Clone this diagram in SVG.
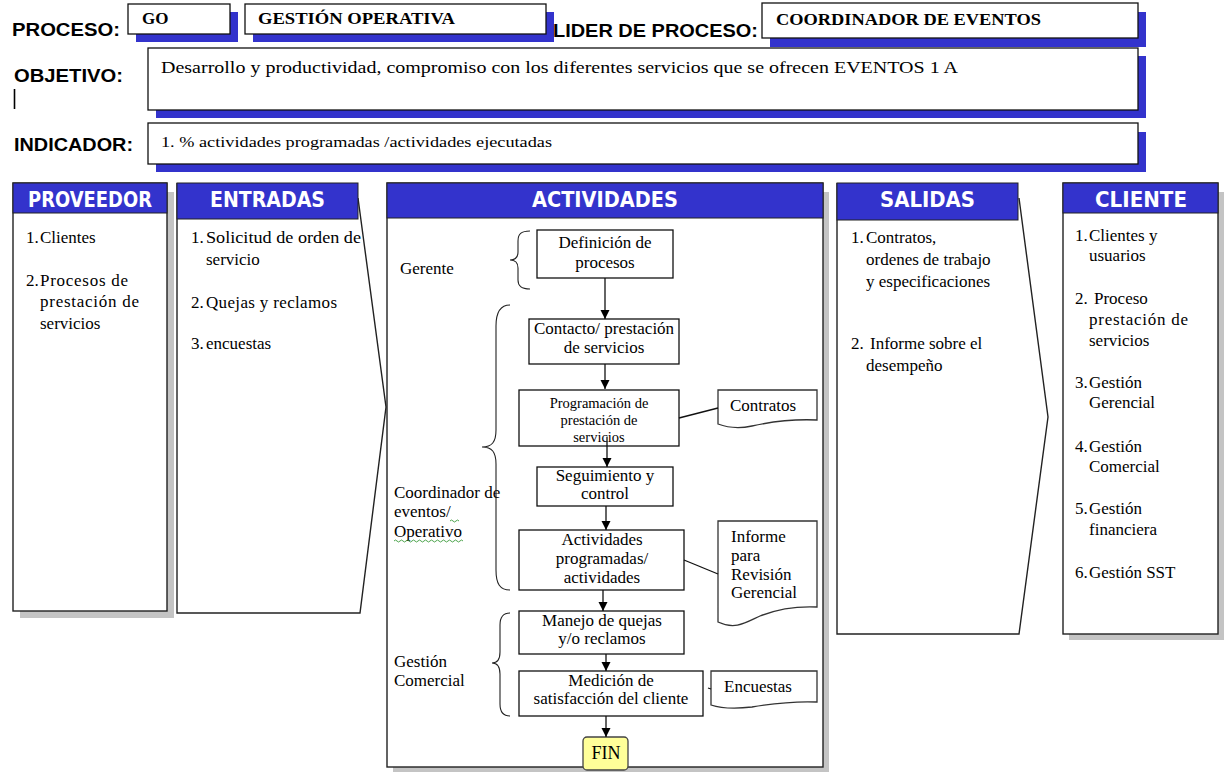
<svg xmlns="http://www.w3.org/2000/svg" width="1227" height="772" viewBox="0 0 1227 772">
<style>
  .lbl{font-family:"Liberation Sans",Arial,sans-serif;font-weight:bold;font-size:18px;fill:#000}
  .val{font-family:"Liberation Serif","Times New Roman",serif;font-weight:bold;font-size:17px;fill:#000}
  .t{font-family:"Liberation Serif","Times New Roman",serif;font-size:17px;fill:#000}
  .ts{font-family:"Liberation Serif","Times New Roman",serif;font-size:14.5px;fill:#000;text-anchor:middle}
  .nt{font-family:"Liberation Serif","Times New Roman",serif;font-size:17px;fill:#000;text-anchor:middle}
  .fbox{fill:#fff;stroke:#111;stroke-width:1.3}
  .bsh{fill:#3333cc}
  .gsh{fill:#c4c4c4}
  .col{fill:#fff;stroke:#222;stroke-width:1.4}
  .band{fill:#3333cc;stroke:#222;stroke-width:1}
  .hd{font-family:"DejaVu Sans",sans-serif;font-weight:bold;font-size:21px;fill:#fff}
  .node{fill:#fff;stroke:#111;stroke-width:1.3}
  .doc{fill:#fff;stroke:#333;stroke-width:1.3}
  .conn{stroke:#111;stroke-width:1.3;fill:none}
  .brace{stroke:#222;stroke-width:1.1;fill:none}
  .sq{stroke:#3a9a3a;stroke-width:0.9;fill:none}
</style>
<defs>
  <marker id="ah" viewBox="0 0 10 10" refX="10" refY="5" markerWidth="9" markerHeight="10" markerUnits="userSpaceOnUse" orient="auto">
    <path d="M0,0 L10,5 L0,10 Z" fill="#000"/>
  </marker>
</defs>
<rect width="1227" height="772" fill="#fff"/>

<!-- header: process identification -->
<g id="hdr-proceso">
  <text class="lbl" x="12" y="36" textLength="108" lengthAdjust="spacingAndGlyphs">PROCESO:</text>
  <rect class="bsh" x="136" y="12" width="102" height="30"/>
  <rect class="fbox" x="128" y="4" width="102" height="30"/>
  <text class="val" x="142" y="24">GO</text>
  <rect class="bsh" x="253" y="12" width="301" height="30"/>
  <rect class="fbox" x="245" y="4" width="301" height="30"/>
  <text class="val" x="258" y="24" textLength="197" lengthAdjust="spacingAndGlyphs">GESTIÓN OPERATIVA</text>
</g>
<g id="hdr-lider">
  <text class="lbl" x="553" y="37" textLength="205" lengthAdjust="spacingAndGlyphs">LIDER DE PROCESO:</text>
  <rect class="bsh" x="770" y="12" width="376" height="35"/>
  <rect class="fbox" x="762" y="3" width="376" height="35"/>
  <text class="val" x="776" y="25" textLength="265" lengthAdjust="spacingAndGlyphs">COORDINADOR DE EVENTOS</text>
</g>
<g id="hdr-objetivo">
  <text class="lbl" x="14" y="82" textLength="109" lengthAdjust="spacingAndGlyphs">OBJETIVO:</text>
  <line x1="14.5" y1="89" x2="14.5" y2="109" stroke="#000" stroke-width="1.6"/>
  <rect class="bsh" x="156" y="56" width="990" height="62"/>
  <rect class="fbox" x="148" y="48" width="990" height="62"/>
  <text class="t" x="161" y="73" textLength="797" lengthAdjust="spacingAndGlyphs">Desarrollo y productividad, compromiso con los diferentes servicios que se ofrecen EVENTOS 1 A</text>
</g>
<g id="hdr-indicador">
  <text class="lbl" x="14" y="151" textLength="119" lengthAdjust="spacingAndGlyphs">INDICADOR:</text>
  <rect class="bsh" x="156" y="132" width="990" height="40"/>
  <rect class="fbox" x="148" y="123" width="990" height="41"/>
  <text class="t" x="161" y="147" style="font-size:15.5px" textLength="391" lengthAdjust="spacingAndGlyphs">1. % actividades programadas /actividades ejecutadas</text>
</g>

<!-- PROVEEDOR column -->
<g id="col-proveedor">
  <rect class="gsh" x="20" y="192" width="154" height="426"/>
  <rect class="col" x="13" y="183" width="154" height="428"/>
  <rect class="band" x="13" y="183" width="154" height="30"/>
  <text class="hd" x="28" y="207" textLength="124" lengthAdjust="spacingAndGlyphs">PROVEEDOR</text>
  <text class="t" x="26" y="243">1.</text><text class="t" x="40" y="243">Clientes</text>
  <text class="t" x="26" y="286">2.</text><text class="t" x="40" y="286" textLength="88" lengthAdjust="spacing">Procesos de</text>
  <text class="t" x="40" y="307" textLength="99" lengthAdjust="spacing">prestación de</text>
  <text class="t" x="40" y="329">servicios</text>
</g>

<!-- ENTRADAS column (chevron) -->
<g id="col-entradas">
  <path class="col" d="M177,183 V613 H360 L386,407 L358,198"/>
  <rect class="band" x="177" y="183" width="181" height="36"/>
  <text class="hd" x="210" y="207" textLength="115" lengthAdjust="spacingAndGlyphs">ENTRADAS</text>
  <text class="t" x="191" y="243">1.</text><text class="t" x="206" y="243" textLength="155" lengthAdjust="spacingAndGlyphs">Solicitud de orden de</text>
  <text class="t" x="206" y="265">servicio</text>
  <text class="t" x="191" y="308">2.</text><text class="t" x="206" y="308" textLength="131" lengthAdjust="spacing">Quejas y reclamos</text>
  <text class="t" x="191" y="349">3.</text><text class="t" x="206" y="349">encuestas</text>
</g>

<!-- ACTIVIDADES column -->
<g id="col-actividades">
  <rect class="gsh" x="393" y="192" width="436" height="581"/>
  <rect class="col" x="387" y="183" width="436" height="584"/>
  <rect class="band" x="387" y="183" width="436" height="35"/>
  <text class="hd" x="532" y="207" textLength="146" lengthAdjust="spacingAndGlyphs">ACTIVIDADES</text>
</g>

<!-- responsible roles with braces -->
<g id="role-gerente">
  <text class="t" x="400" y="274">Gerente</text>
  <path class="brace" d="M530,231 C521,231 518,234 518,241 V252 C518,258 515,260 510,260 C515,260 518,262 518,268 V280 C518,286 521,289 530,289"/>
</g>
<g id="role-coordinador">
  <text class="t" x="394" y="498">Coordinador de</text>
  <text class="t" x="394" y="517">eventos/</text>
  <text class="t" x="394" y="537">Operativo</text>
  <path class="sq" d="M450,521 q1.5,-2 3,0 t3,0 t3,0"/>
  <path class="sq" d="M394,541 q1.5,-2 3,0 t3,0 t3,0 t3,0 t3,0 t3,0 t3,0 t3,0 t3,0 t3,0 t3,0 t3,0 t3,0 t3,0 t3,0 t3,0 t3,0 t3,0 t3,0 t3,0 t3,0 t3,0 t3,0"/>
  <path class="brace" d="M510,305 C500,305 496,312 496,326 V430 C496,442 492,447 482,447 C492,447 496,452 496,464 V570 C496,584 500,590 510,590"/>
</g>
<g id="role-comercial">
  <text class="t" x="394" y="667">Gestión</text>
  <text class="t" x="394" y="686">Comercial</text>
  <path class="brace" d="M510,613 C503,613 500,617 500,625 V652 C500,659 497,663 492,663 C497,663 500,667 500,674 V704 C500,712 503,716 510,716"/>
</g>

<!-- activity nodes -->
<g id="n-definicion">
  <rect class="node" x="537" y="230" width="136" height="48"/>
  <text class="nt" x="605" y="248">Definición de</text>
  <text class="nt" x="605" y="268">procesos</text>
</g>
<g id="n-contacto">
  <rect class="node" x="529" y="319" width="150" height="45"/>
  <text class="nt" x="604" y="334">Contacto/ prestación</text>
  <text class="nt" x="604" y="353">de servicios</text>
</g>
<g id="n-programacion">
  <rect class="node" x="519" y="390" width="160" height="56"/>
  <text class="ts" x="599" y="408">Programación de</text>
  <text class="ts" x="599" y="425">prestación de</text>
  <text class="ts" x="599" y="442">servicios</text>
</g>
<g id="n-seguimiento">
  <rect class="node" x="537" y="467" width="136" height="39"/>
  <text class="nt" x="605" y="481">Seguimiento y</text>
  <text class="nt" x="605" y="499">control</text>
</g>
<g id="n-actividades">
  <rect class="node" x="519" y="530" width="165" height="60"/>
  <text class="nt" x="602" y="545">Actividades</text>
  <text class="nt" x="602" y="564">programadas/</text>
  <text class="nt" x="602" y="583">actividades</text>
</g>
<g id="n-manejo">
  <rect class="node" x="519" y="611" width="165" height="43"/>
  <text class="nt" x="602" y="626">Manejo de quejas</text>
  <text class="nt" x="602" y="644">y/o reclamos</text>
</g>
<g id="n-medicion">
  <rect class="node" x="519" y="671" width="184" height="45"/>
  <text class="nt" x="611" y="686">Medición de</text>
  <text class="nt" x="611" y="704">satisfacción del cliente</text>
</g>
<g id="n-fin">
  <rect x="583" y="737" width="45" height="33" rx="4" fill="#ffff99" stroke="#444" stroke-width="1.3"/>
  <text class="nt" x="606" y="759" style="font-size:18px">FIN</text>
</g>

<!-- document outputs -->
<g id="d-contratos">
  <path class="doc" d="M718,390 H817 V420 C795,419 770,422 752,426 C738,429 726,427 718,424 Z"/>
  <text class="t" x="730" y="411">Contratos</text>
</g>
<g id="d-informe">
  <path class="doc" d="M718,521 H817 V607 C795,606 775,610 760,616 C745,623 735,630 718,622 Z"/>
  <text class="t" x="731" y="542">Informe</text>
  <text class="t" x="731" y="561">para</text>
  <text class="t" x="731" y="580">Revisión</text>
  <text class="t" x="731" y="598">Gerencial</text>
</g>
<g id="d-encuestas">
  <path class="doc" d="M711,671 H817 V702 C795,701 770,704 752,707 C735,709 720,708 711,705 Z"/>
  <text class="t" x="724" y="692">Encuestas</text>
</g>

<!-- connectors -->
<g id="connectors">
  <line class="conn" x1="605" y1="278" x2="605" y2="319" marker-end="url(#ah)"/>
  <line class="conn" x1="605" y1="364" x2="605" y2="389" marker-end="url(#ah)"/>
  <line class="conn" x1="607" y1="437" x2="607" y2="467" marker-end="url(#ah)"/>
  <line class="conn" x1="606" y1="506" x2="606" y2="530" marker-end="url(#ah)"/>
  <line class="conn" x1="603" y1="590" x2="603" y2="611" marker-end="url(#ah)"/>
  <line class="conn" x1="606" y1="654" x2="606" y2="671" marker-end="url(#ah)"/>
  <line class="conn" x1="606" y1="716" x2="606" y2="737" marker-end="url(#ah)"/>
  <line class="conn" x1="679" y1="418" x2="718" y2="408"/>
  <line class="conn" x1="684" y1="560" x2="718" y2="574"/>
  <line class="conn" x1="708" y1="688" x2="711" y2="689"/>
</g>

<!-- SALIDAS column (chevron) -->
<g id="col-salidas">
  <path class="col" d="M837,183 V634 H1019 L1048,417 L1019,198"/>
  <rect class="band" x="837" y="183" width="181" height="37"/>
  <text class="hd" x="880" y="207" textLength="95" lengthAdjust="spacingAndGlyphs">SALIDAS</text>
  <text class="t" x="851" y="243">1.</text><text class="t" x="866" y="243">Contratos,</text>
  <text class="t" x="866" y="265">ordenes de trabajo</text>
  <text class="t" x="866" y="287">y especificaciones</text>
  <text class="t" x="851" y="349">2.</text><text class="t" x="870" y="349">Informe sobre el</text>
  <text class="t" x="866" y="371">desempeño</text>
</g>

<!-- CLIENTE column -->
<g id="col-cliente">
  <rect class="gsh" x="1069" y="192" width="155" height="448"/>
  <rect class="col" x="1063" y="183" width="155" height="451"/>
  <rect class="band" x="1063" y="183" width="155" height="30"/>
  <text class="hd" x="1095" y="207" textLength="92" lengthAdjust="spacingAndGlyphs">CLIENTE</text>
  <text class="t" x="1075" y="241">1.</text><text class="t" x="1089" y="241">Clientes y</text>
  <text class="t" x="1089" y="261">usuarios</text>
  <text class="t" x="1075" y="304">2.</text><text class="t" x="1094" y="304">Proceso</text>
  <text class="t" x="1089" y="325" textLength="99" lengthAdjust="spacing">prestación de</text>
  <text class="t" x="1089" y="346">servicios</text>
  <text class="t" x="1075" y="388">3.</text><text class="t" x="1089" y="388">Gestión</text>
  <text class="t" x="1089" y="408">Gerencial</text>
  <text class="t" x="1075" y="452">4.</text><text class="t" x="1089" y="452">Gestión</text>
  <text class="t" x="1089" y="472">Comercial</text>
  <text class="t" x="1075" y="514">5.</text><text class="t" x="1089" y="514">Gestión</text>
  <text class="t" x="1089" y="535">financiera</text>
  <text class="t" x="1075" y="578">6.</text><text class="t" x="1089" y="578">Gestión SST</text>
</g>
</svg>
